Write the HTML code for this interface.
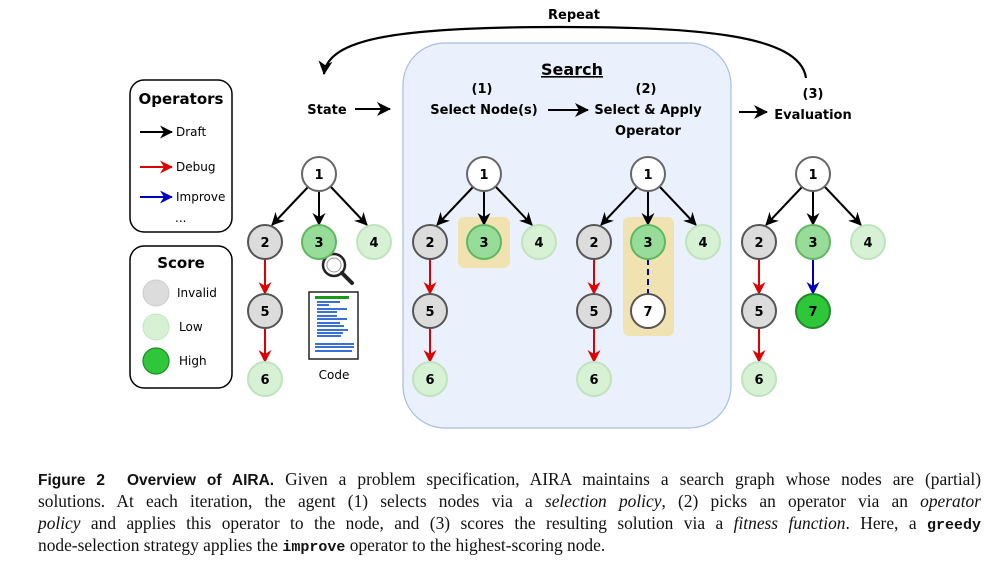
<!DOCTYPE html>
<html><head><meta charset="utf-8"><style>
body{margin:0;background:#fff;width:1008px;height:573px;overflow:hidden;position:relative}
svg{position:absolute;left:0;top:0}
.cap{position:absolute;left:38px;width:943px;font-family:"Liberation Serif",serif;font-size:17.4px;color:#111;text-align:justify;text-align-last:justify;white-space:nowrap;line-height:22px}
.cap b{font-family:"Liberation Sans",sans-serif;font-size:15.5px}
.cap i{font-style:italic}
.cap code{font-family:"Liberation Mono",monospace;font-size:15px;font-weight:bold}
</style></head><body>
<svg width="1008" height="460" viewBox="0 0 1008 460" font-family="DejaVu Sans, Liberation Sans, sans-serif">
<defs>
<marker id="ak" markerWidth="13" markerHeight="13" refX="12" refY="6.5" orient="auto" markerUnits="userSpaceOnUse"><path d="M0,0 L13,6.5 L0,13 L4,6.5Z" fill="#000"/></marker>
<marker id="ar" markerWidth="13" markerHeight="13" refX="12" refY="6.5" orient="auto" markerUnits="userSpaceOnUse"><path d="M0,0 L13,6.5 L0,13 L4,6.5Z" fill="#d00"/></marker>
<marker id="ab" markerWidth="13" markerHeight="13" refX="12" refY="6.5" orient="auto" markerUnits="userSpaceOnUse"><path d="M0,0 L13,6.5 L0,13 L4,6.5Z" fill="#00b"/></marker>
<marker id="ak2" markerWidth="14" markerHeight="14" refX="13" refY="7" orient="auto" markerUnits="userSpaceOnUse"><path d="M0,0 L14,7 L0,14 L4,7Z" fill="#000"/></marker>
</defs>
<rect x="403" y="43" width="328" height="385" rx="42" fill="#ebf1fc" stroke="#a8bde0" stroke-width="1.2"/>
<path d="M806,78 C800,35 700,27 560,27 C400,27 328,38 324,74" fill="none" stroke="#000" stroke-width="2.2" marker-end="url(#ak2)"/>
<text x="574" y="19" font-size="13" font-weight="bold" text-anchor="middle">Repeat</text>
<text x="572" y="75" font-size="16" font-weight="bold" text-anchor="middle" text-decoration="underline">Search</text>
<g font-size="13" font-weight="bold" text-anchor="middle">
<text x="482" y="93">(1)</text><text x="484" y="114">Select Node(s)</text>
<text x="646" y="93">(2)</text><text x="648" y="114">Select &amp; Apply</text><text x="648" y="135">Operator</text>
<text x="813" y="98">(3)</text><text x="813" y="119">Evaluation</text>
<text x="327" y="114">State</text>
</g>
<line x1="355" y1="109" x2="390" y2="109" stroke="#000" stroke-width="2" marker-end="url(#ak2)"/>
<line x1="548" y1="110" x2="588" y2="110" stroke="#000" stroke-width="2" marker-end="url(#ak2)"/>
<line x1="739" y1="112" x2="767" y2="112" stroke="#000" stroke-width="2" marker-end="url(#ak2)"/>
<rect x="130" y="80" width="102" height="152" rx="14" fill="#fff" stroke="#000" stroke-width="1.5"/>
<text x="181" y="104" font-size="15" font-weight="bold" text-anchor="middle">Operators</text>
<line x1="140" y1="132" x2="172" y2="132" stroke="#000" stroke-width="2" marker-end="url(#ak)"/>
<line x1="140" y1="167" x2="172" y2="167" stroke="#d00" stroke-width="2" marker-end="url(#ar)"/>
<line x1="140" y1="197" x2="172" y2="197" stroke="#00b" stroke-width="2" marker-end="url(#ab)"/>
<g font-family="DejaVu Sans, sans-serif" font-size="12">
<text x="176" y="136">Draft</text><text x="176" y="171">Debug</text><text x="176" y="201">Improve</text><text x="175" y="222">...</text>
</g>
<rect x="130" y="246" width="102" height="142" rx="14" fill="#fff" stroke="#000" stroke-width="1.5"/>
<text x="181" y="268" font-size="15" font-weight="bold" text-anchor="middle">Score</text>
<circle cx="156" cy="293" r="13" fill="#dcdcdc" stroke="#ccc"/>
<circle cx="156" cy="327" r="13" fill="#d6f1d4" stroke="#c2e5c0"/>
<circle cx="156" cy="361" r="13" fill="#2ec73a" stroke="#1e8a28" stroke-width="1.2"/>
<g font-size="12"><text x="177" y="297">Invalid</text><text x="179" y="331">Low</text><text x="179" y="365">High</text></g>
<rect x="458" y="217" width="52" height="51" rx="6" fill="#f1e0a8" opacity="0.9"/>
<rect x="623" y="217" width="51" height="119" rx="6" fill="#f1e0a8" opacity="0.9"/>
<circle cx="334" cy="265" r="11" fill="#fff" stroke="#222" stroke-width="2.5"/>
<circle cx="334" cy="265" r="7" fill="none" stroke="#999" stroke-width="1"/>
<line x1="342" y1="273" x2="352" y2="283" stroke="#222" stroke-width="4" stroke-linecap="round"/>
<rect x="309" y="292" width="49" height="67" fill="#fff" stroke="#222" stroke-width="1.5"/>
<rect x="315" y="296" width="34" height="3" fill="#1a9a1a"/>
<g fill="#3a70d8">
<rect x="317" y="301" width="23" height="2"/><rect x="317" y="304" width="12" height="2"/><rect x="317" y="308" width="30" height="2"/><rect x="317" y="311" width="20" height="2"/><rect x="317" y="315" width="20" height="2"/><rect x="317" y="318" width="30" height="2"/><rect x="317" y="322" width="23" height="2"/><rect x="317" y="325" width="27" height="2"/><rect x="317" y="329" width="31" height="2"/><rect x="317" y="332" width="26" height="2"/><rect x="317" y="335" width="24" height="2"/><rect x="315" y="343" width="39" height="2"/><rect x="315" y="346" width="39" height="2"/><rect x="315" y="350" width="37" height="2"/>
</g>
<text x="334" y="379" font-size="12" text-anchor="middle">Code</text>

<g transform="translate(319,0)">
<line x1="-11" y1="187" x2="-47" y2="225" stroke="#000" stroke-width="2" marker-end="url(#ak)"/>
<line x1="0" y1="191" x2="0" y2="225" stroke="#000" stroke-width="2" marker-end="url(#ak)"/>
<line x1="12" y1="187" x2="48" y2="225" stroke="#000" stroke-width="2" marker-end="url(#ak)"/>
<line x1="-54" y1="259" x2="-54" y2="294" stroke="#d00" stroke-width="2" marker-end="url(#ar)"/>
<line x1="-54" y1="328" x2="-54" y2="362" stroke="#d00" stroke-width="2" marker-end="url(#ar)"/>
<circle cx="0" cy="174" r="17" fill="#fff" stroke="#666" stroke-width="2"/>
<circle cx="-54" cy="242" r="17" fill="#dcdcdc" stroke="#555" stroke-width="2"/>
<circle cx="0" cy="242" r="17" fill="#97dc98" stroke="#5fb860" stroke-width="2"/>
<circle cx="55" cy="242" r="17" fill="#d6f1d4" stroke="#bfe3bd" stroke-width="2"/>
<circle cx="-54" cy="311" r="17" fill="#dcdcdc" stroke="#555" stroke-width="2"/>
<circle cx="-54" cy="379" r="17" fill="#d6f1d4" stroke="#bfe3bd" stroke-width="2"/>
<g font-size="13" font-weight="bold" text-anchor="middle"><text x="0" y="179">1</text><text x="-54" y="247">2</text><text x="0" y="247">3</text><text x="55" y="247">4</text><text x="-54" y="316">5</text><text x="-54" y="384">6</text></g>
</g>
<g transform="translate(484,0)">
<line x1="-11" y1="187" x2="-47" y2="225" stroke="#000" stroke-width="2" marker-end="url(#ak)"/>
<line x1="0" y1="191" x2="0" y2="225" stroke="#000" stroke-width="2" marker-end="url(#ak)"/>
<line x1="12" y1="187" x2="48" y2="225" stroke="#000" stroke-width="2" marker-end="url(#ak)"/>
<line x1="-54" y1="259" x2="-54" y2="294" stroke="#d00" stroke-width="2" marker-end="url(#ar)"/>
<line x1="-54" y1="328" x2="-54" y2="362" stroke="#d00" stroke-width="2" marker-end="url(#ar)"/>
<circle cx="0" cy="174" r="17" fill="#fff" stroke="#666" stroke-width="2"/>
<circle cx="-54" cy="242" r="17" fill="#dcdcdc" stroke="#555" stroke-width="2"/>
<circle cx="0" cy="242" r="17" fill="#97dc98" stroke="#5fb860" stroke-width="2"/>
<circle cx="55" cy="242" r="17" fill="#d6f1d4" stroke="#bfe3bd" stroke-width="2"/>
<circle cx="-54" cy="311" r="17" fill="#dcdcdc" stroke="#555" stroke-width="2"/>
<circle cx="-54" cy="379" r="17" fill="#d6f1d4" stroke="#bfe3bd" stroke-width="2"/>
<g font-size="13" font-weight="bold" text-anchor="middle"><text x="0" y="179">1</text><text x="-54" y="247">2</text><text x="0" y="247">3</text><text x="55" y="247">4</text><text x="-54" y="316">5</text><text x="-54" y="384">6</text></g>
</g>
<g transform="translate(648,0)">
<line x1="-11" y1="187" x2="-47" y2="225" stroke="#000" stroke-width="2" marker-end="url(#ak)"/>
<line x1="0" y1="191" x2="0" y2="225" stroke="#000" stroke-width="2" marker-end="url(#ak)"/>
<line x1="12" y1="187" x2="48" y2="225" stroke="#000" stroke-width="2" marker-end="url(#ak)"/>
<line x1="-54" y1="259" x2="-54" y2="294" stroke="#d00" stroke-width="2" marker-end="url(#ar)"/>
<line x1="-54" y1="328" x2="-54" y2="362" stroke="#d00" stroke-width="2" marker-end="url(#ar)"/>
<line x1="0" y1="259" x2="0" y2="294" stroke="#00b" stroke-width="2" stroke-dasharray="6,4"/>
<circle cx="0" cy="174" r="17" fill="#fff" stroke="#666" stroke-width="2"/>
<circle cx="-54" cy="242" r="17" fill="#dcdcdc" stroke="#555" stroke-width="2"/>
<circle cx="0" cy="242" r="17" fill="#97dc98" stroke="#5fb860" stroke-width="2"/>
<circle cx="55" cy="242" r="17" fill="#d6f1d4" stroke="#bfe3bd" stroke-width="2"/>
<circle cx="-54" cy="311" r="17" fill="#dcdcdc" stroke="#555" stroke-width="2"/>
<circle cx="0" cy="311" r="17" fill="#fff" stroke="#555" stroke-width="2"/>
<circle cx="-54" cy="379" r="17" fill="#d6f1d4" stroke="#bfe3bd" stroke-width="2"/>
<g font-size="13" font-weight="bold" text-anchor="middle"><text x="0" y="179">1</text><text x="-54" y="247">2</text><text x="0" y="247">3</text><text x="55" y="247">4</text><text x="-54" y="316">5</text><text x="0" y="316">7</text><text x="-54" y="384">6</text></g>
</g>
<g transform="translate(813,0)">
<line x1="-11" y1="187" x2="-47" y2="225" stroke="#000" stroke-width="2" marker-end="url(#ak)"/>
<line x1="0" y1="191" x2="0" y2="225" stroke="#000" stroke-width="2" marker-end="url(#ak)"/>
<line x1="12" y1="187" x2="48" y2="225" stroke="#000" stroke-width="2" marker-end="url(#ak)"/>
<line x1="-54" y1="259" x2="-54" y2="294" stroke="#d00" stroke-width="2" marker-end="url(#ar)"/>
<line x1="-54" y1="328" x2="-54" y2="362" stroke="#d00" stroke-width="2" marker-end="url(#ar)"/>
<line x1="0" y1="259" x2="0" y2="294" stroke="#00b" stroke-width="2" marker-end="url(#ab)"/>
<circle cx="0" cy="174" r="17" fill="#fff" stroke="#666" stroke-width="2"/>
<circle cx="-54" cy="242" r="17" fill="#dcdcdc" stroke="#555" stroke-width="2"/>
<circle cx="0" cy="242" r="17" fill="#97dc98" stroke="#5fb860" stroke-width="2"/>
<circle cx="55" cy="242" r="17" fill="#d6f1d4" stroke="#bfe3bd" stroke-width="2"/>
<circle cx="-54" cy="311" r="17" fill="#dcdcdc" stroke="#555" stroke-width="2"/>
<circle cx="0" cy="311" r="17" fill="#2ec73a" stroke="#1e8a28" stroke-width="2"/>
<circle cx="-54" cy="379" r="17" fill="#d6f1d4" stroke="#bfe3bd" stroke-width="2"/>
<g font-size="13" font-weight="bold" text-anchor="middle"><text x="0" y="179">1</text><text x="-54" y="247">2</text><text x="0" y="247">3</text><text x="55" y="247">4</text><text x="-54" y="316">5</text><text x="0" y="316">7</text><text x="-54" y="384">6</text></g>
</g>
</svg>
<div class="cap" style="top:468px"><b>Figure 2&nbsp; Overview of AIRA.</b> Given a problem specification, AIRA maintains a search graph whose nodes are (partial)</div>
<div class="cap" style="top:490px">solutions. At each iteration, the agent (1) selects nodes via a <i>selection policy</i>, (2) picks an operator via an <i>operator</i></div>
<div class="cap" style="top:512px"><i>policy</i> and applies this operator to the node, and (3) scores the resulting solution via a <i>fitness function</i>. Here, a <code>greedy</code></div>
<div class="cap" style="top:534px;text-align-last:left">node-selection strategy applies the <code>improve</code> operator to the highest-scoring node.</div>
</body></html>
